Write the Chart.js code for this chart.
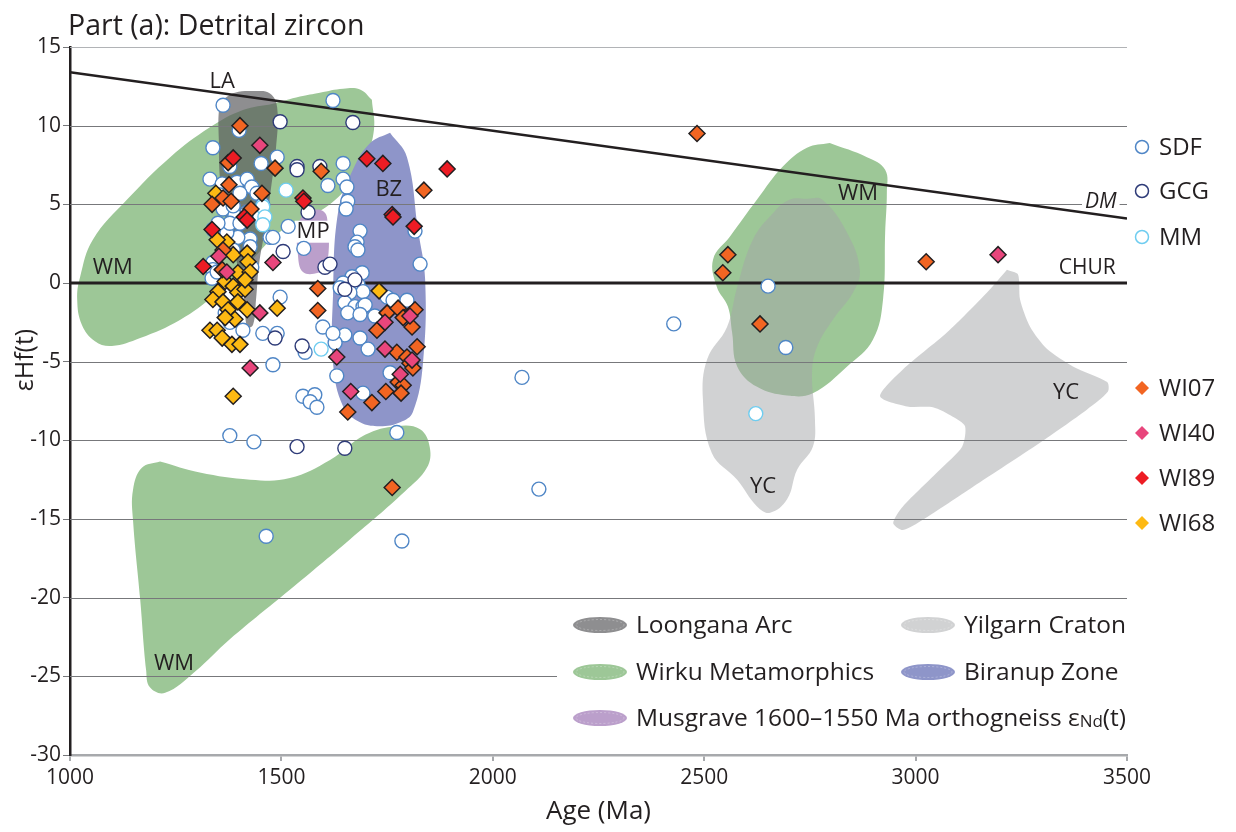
<!DOCTYPE html>
<html>
<head>
<meta charset="utf-8">
<title>Detrital zircon εHf(t)</title>
<script src="https://cdn.jsdelivr.net/npm/chart.js@4.4.0/dist/chart.umd.min.js"></script>
<style>
  html, body { margin: 0; padding: 0; background: #fff; }
  canvas { display: block; }
</style>
</head>
<body>
<canvas id="chartHf" width="1236" height="832"></canvas>
<script>
const FONT = '"Open Sans", "Noto Sans", sans-serif';
const INK = '#231f20';

// axis ticks
const ageTicks = [1000, 1500, 2000, 2500, 3000, 3500];
const hfTicks = [15, 10, 5, 0, -5, -10, -15, -20, -25, -30];

// evolution lines, [age Ma, eHf]
const dmLine = [[1000, 13.4], [3500, 4.1]];
const churLine = [[1000, 0], [3500, 0]];

// detrital zircon analyses, [age Ma, eHf(t)]
const sdf = [
  [1362, 11.3], [1622, 11.6], [1400, 9.7], [1338, 8.6], [1490, 8.0], [1452, 7.6], [1378, 7.4], [1646, 7.6],
  [1610, 6.2], [1646, 6.6], [1655, 6.1], [1657, 5.2], [1653, 4.7], [1516, 3.6], [1553, 2.2], [1686, 3.3],
  [1679, 2.6], [1674, 2.3], [1828, 1.2], [1816, 3.3],
  [1331, 6.6], [1360, 6.3], [1395, 6.4], [1419, 6.6], [1430, 6.1], [1402, 5.7], [1442, 5.7], [1456, 5.0],
  [1362, 4.7], [1390, 4.3], [1419, 4.5], [1449, 4.2], [1473, 2.9], [1480, 2.9], [1426, 2.8], [1397, 2.9],
  [1371, 3.2], [1338, 3.4], [1378, 3.8], [1350, 3.8], [1402, 3.8], [1386, 4.9], [1355, 5.6], [1338, 1.3],
  [1338, 0.85], [1430, 1.0], [1336, 0.3], [1348, 0.7], [1426, 2.3], [1386, 2.1],
  [1497, -0.9], [1378, -2.5], [1367, -1.9], [1409, -3.0], [1456, -3.2], [1490, -3.2], [1480, -5.2],
  [1378, -9.7], [1435, -10.1], [1464, -16.1],
  [1691, 0.65], [1667, 0.4], [1646, 0.0], [1639, -0.3], [1681, -0.1], [1693, -0.55], [1662, -0.6],
  [1650, -1.25], [1674, -1.5], [1693, -1.5], [1657, -1.9], [1698, -1.4], [1686, -2.0], [1750, -0.9],
  [1764, -1.1], [1797, -1.1], [1721, -2.1], [1650, -3.3], [1627, -3.8], [1686, -3.5], [1705, -4.2],
  [1598, -2.8], [1622, -3.2], [1631, -5.9], [1757, -5.7], [1693, -7.0], [1551, -7.2], [1579, -7.1],
  [1568, -7.55], [1584, -7.9], [1773, -9.5], [1785, -16.4], [1681, 2.1], [1556, -4.4],
  [2069, -6.0], [2109, -13.1], [2428, -2.6], [2651, -0.2], [2693, -4.1]
];
const gcg = [
  [1497, 10.25], [1669, 10.2], [1537, 7.4], [1537, 7.2], [1591, 7.4], [1563, 4.5], [1504, 2.0], [1603, 1.0],
  [1615, 1.2], [1549, -4.0], [1485, -3.5], [1537, -10.4], [1650, -10.5], [1674, 0.2], [1650, -0.4]
];
const mm = [[1511, 5.9], [1456, 4.85], [1461, 4.2], [1456, 3.7], [1594, -4.2], [2622, -8.3]];
const wi07 = [
  [1402, 10.0], [1374, 7.65], [1485, 7.3], [1594, 7.1], [1376, 6.25], [1336, 5.0], [1362, 5.4], [1381, 5.2],
  [1454, 5.7], [1428, 4.7], [1837, 5.9], [1586, -0.35], [2483, 9.5], [2556, 1.8], [2544, 0.65], [2632, -2.6],
  [3025, 1.35], [1586, -1.75], [1726, -3.0], [1750, -1.9], [1776, -1.6], [1804, -2.0], [1816, -1.7],
  [1788, -2.2], [1809, -2.8], [1773, -4.4], [1797, -4.7], [1821, -4.05], [1804, -5.1], [1811, -5.4],
  [1776, -6.3], [1788, -6.5], [1747, -6.9], [1783, -7.0], [1714, -7.6], [1657, -8.2], [1762, -13.0],
  [1362, 2.1], [1360, 0.85]
];
const wi40 = [
  [1449, 8.75], [1480, 1.3], [1352, 1.7], [1371, 0.7], [1449, -1.9], [1426, -5.4], [1631, -4.7],
  [1745, -2.5], [1804, -2.1], [1745, -4.2], [1809, -4.9], [1781, -5.8], [1664, -6.9], [3195, 1.8]
];
const wi89 = [
  [1386, 7.95], [1702, 7.9], [1740, 7.6], [1892, 7.25], [1551, 5.4], [1553, 5.2], [1412, 4.2], [1419, 4.0],
  [1762, 4.35], [1764, 4.2], [1814, 3.6], [1336, 3.4], [1315, 1.05]
];
const wi68 = [
  [1345, 5.7], [1371, 2.6], [1348, 2.75], [1386, 1.8], [1419, 1.9], [1421, 1.35], [1397, 0.65], [1367, 0.1],
  [1386, -0.2], [1350, -0.55], [1397, -0.6], [1414, -0.4], [1338, -1.05], [1362, -1.2], [1397, -1.2],
  [1374, -1.7], [1419, -1.7], [1390, -2.3], [1367, -2.2], [1331, -3.0], [1348, -3.0], [1360, -3.5],
  [1383, -3.9], [1402, -3.9], [1386, -7.2], [1490, -1.6], [1731, -0.5], [1426, 0.7], [1414, 0.2]
];

// comparison fields (outlines), [age Ma, eHf]
const wmUpper = [
  [1714, 11.65], [1686, 12.3], [1646, 12.35], [1591, 12.1], [1544, 11.85], [1480, 11.4], [1409, 11.0],
  [1331, 9.9], [1237, 8.0], [1135, 5.3], [1054, 2.75], [1024, 0.4], [1017, -1.05], [1028, -2.65],
  [1059, -3.7], [1099, -4.0], [1166, -3.5], [1260, -2.35], [1343, -0.75], [1426, 1.35], [1497, 3.25],
  [1596, 4.65], [1655, 6.05], [1698, 7.85], [1719, 9.75]
];
const wmLower = [
  [1213, -11.35], [1307, -12.05], [1426, -12.5], [1520, -12.4], [1615, -11.25], [1698, -9.65],
  [1773, -9.1], [1828, -9.3], [1851, -10.45], [1844, -11.75], [1792, -13.25], [1662, -16.3],
  [1520, -19.5], [1378, -22.65], [1296, -24.7], [1225, -26.05], [1189, -25.7], [1180, -24.6],
  [1166, -20.1], [1149, -15.05], [1149, -13.15], [1170, -11.75]
];
const wmRight = [
  [2797, 8.9], [2885, 8.0], [2928, 7.2], [2932, 5.75], [2928, 3.2], [2923, -1.05], [2899, -3.6],
  [2838, -5.3], [2757, -7.0], [2696, -7.15], [2625, -6.6], [2578, -5.3], [2566, -3.15], [2556, -1.5],
  [2530, -0.25], [2521, 1.5], [2561, 2.95], [2625, 5.3], [2686, 7.4], [2743, 8.6]
];
const laField = [
  [1360, 11.65], [1390, 12.1], [1437, 12.2], [1473, 12.05], [1490, 11.15], [1487, 8.5], [1475, 5.95],
  [1461, 3.4], [1447, 1.15], [1440, -1.05], [1433, -2.65], [1419, -2.8], [1412, -1.05], [1393, 1.5],
  [1369, 4.0], [1355, 6.55], [1352, 9.1], [1352, 10.9]
];
const bzField = [
  [1757, 9.55], [1797, 8.0], [1823, 3.4], [1840, 0.2], [1835, -5.05], [1811, -8.2], [1781, -8.85],
  [1733, -9.1], [1686, -8.85], [1646, -7.85], [1622, -5.05], [1622, -0.85], [1634, 4.5], [1669, 7.2],
  [1710, 8.9]
];
const mpField = [
  [1556, 4.5], [1591, 4.65], [1608, 4.15], [1608, 1.15], [1587, 0.65], [1551, 0.7], [1539, 1.8], [1539, 3.7]
];
const ycMid = [
  [2743, 5.35], [2779, 5.3], [2838, 3.2], [2868, 0.85], [2852, -0.6], [2805, -2.3], [2767, -4.05],
  [2755, -5.7], [2762, -8.7], [2757, -10.4], [2720, -11.85], [2696, -13.75], [2656, -14.6], [2625, -14.2],
  [2578, -12.5], [2518, -10.8], [2497, -7.4], [2507, -4.85], [2554, -2.8], [2578, -0.25], [2615, 2.75],
  [2663, 4.45], [2703, 5.3]
];
const ycRight = [
  [3216, 0.85], [3242, 0.55], [3247, -1.05], [3271, -2.8], [3311, -4.2], [3372, -5.3], [3453, -6.3],
  [3455, -6.9], [3405, -8.05], [3294, -10.15], [3136, -12.95], [3017, -15.05], [2970, -15.7],
  [2947, -15.25], [2970, -14.2], [3058, -11.85], [3110, -10.4], [3117, -9.1], [3088, -8.5], [3041, -7.9],
  [2980, -7.85], [2916, -7.2], [2970, -5.5], [3074, -3.15], [3169, -0.6]
];

// field labels, [text, age, eHf]
const zoneLabels = [
  ['LA', 1360, 12.8], ['WM', 1101, 0.97], ['BZ', 1754, 5.9], ['MP', 1575, 3.26],
  ['WM', 2864, 5.67], ['YC', 2639, -12.95], ['YC', 3356, -6.97], ['WM', 1246, -24.2]
];

const WM_FILL = '#9dc797';
const LA_FILL = 'rgba(88, 89, 91, 0.68)';
const YC_FILL = 'rgba(163, 165, 168, 0.5)';
const BZ_FILL = '#8e95c9';
const MP_FILL = '#bb9fcb';

const toXY = arr => arr.map(([x, y]) => ({ x, y }));
const closed = arr => toXY(arr.concat([arr[0]]));

function zone(label, pts, color, order, tension) {
  return {
    type: 'line', label, data: closed(pts), order,
    backgroundColor: color, borderColor: 'rgba(0,0,0,0)', borderWidth: 0,
    pointRadius: 0, fill: 'shape', tension: tension === undefined ? 0.4 : tension
  };
}
function refLine(label, pts, width) {
  return {
    type: 'line', label, data: toXY(pts), order: 20,
    borderColor: INK, borderWidth: width, pointRadius: 0, fill: false, tension: 0
  };
}
function circles(label, pts, edge, order) {
  return {
    type: 'scatter', label, data: toXY(pts), order, key: 'circle',
    pointStyle: 'circle', pointRadius: 7, pointBackgroundColor: '#fff',
    pointBorderColor: edge, pointBorderWidth: 1.4
  };
}
function diamonds(label, pts, color, order) {
  return {
    type: 'scatter', label, data: toXY(pts), order, key: 'diamond',
    pointStyle: 'rectRot', pointRadius: 8, pointBackgroundColor: color,
    pointBorderColor: INK, pointBorderWidth: 1.5
  };
}

const sampleSets = [
  circles('SDF', sdf, '#4f86c6', 10),
  circles('GCG', gcg, '#2e3b78', 9),
  circles('MM', mm, '#6fcdf0', 8),
  diamonds('WI07', wi07, '#f26522', 6),
  diamonds('WI40', wi40, '#e8467c', 5),
  diamonds('WI89', wi89, '#ed1c24', 4),
  diamonds('WI68', wi68, '#fdb913', 7)
];

const fieldSets = [
  zone('Musgrave', mpField, MP_FILL, 30),
  zone('Biranup', bzField, BZ_FILL, 31),
  zone('Loongana', laField, LA_FILL, 32),
  zone('Yilgarn mid', ycMid, YC_FILL, 33),
  zone('Yilgarn right', ycRight, YC_FILL, 34, 0.25),
  zone('Wirku upper', wmUpper, WM_FILL, 35),
  zone('Wirku lower', wmLower, WM_FILL, 36),
  zone('Wirku right', wmRight, WM_FILL, 37)
];

// grid, key panel and field labels go on top of the fills but under lines and points
function drawUnderlay(chart) {
  const { ctx, chartArea: a, scales: { x, y } } = chart;
  ctx.save();
  hfTicks.forEach(v => {
    if (v === -30 || v === 0) return;
    const py = Math.round(y.getPixelForValue(v)) + 0.5;
    ctx.strokeStyle = v === 15 ? '#b1b3b6' : '#77787b';
    ctx.lineWidth = 1.1;
    ctx.beginPath();
    ctx.moveTo(a.left, py);
    ctx.lineTo(a.right, py);
    ctx.stroke();
  });

  ctx.fillStyle = '#fff';
  ctx.fillRect(557, 606, a.right - 557 + 2, a.bottom - 608);

  ctx.textAlign = 'center';
  ctx.textBaseline = 'middle';
  ctx.font = `22px ${FONT}`;
  zoneLabels.forEach(([t, ax, ay]) => {
    const px = x.getPixelForValue(ax), py = y.getPixelForValue(ay);
    if (t === 'MP') {
      const w = ctx.measureText(t).width;
      ctx.fillStyle = '#fff';
      ctx.fillRect(px - w / 2 - 2, py - 11, w + 4, 22);
    }
    ctx.fillStyle = INK;
    ctx.fillText(t, px, py);
  });

  // DM / CHUR tags at the right end of the lines
  const dmX = x.getPixelForValue(3438), dmY = y.getPixelForValue(5.17);
  ctx.font = `italic 21px ${FONT}`;
  const dmW = ctx.measureText('DM').width;
  ctx.fillStyle = '#fff';
  ctx.fillRect(dmX - dmW / 2 - 3, dmY - 9, dmW + 6, 18);
  ctx.fillStyle = INK;
  ctx.fillText('DM', dmX, dmY);
  ctx.font = `21px ${FONT}`;
  ctx.fillText('CHUR', x.getPixelForValue(3406), y.getPixelForValue(0.97));
  ctx.restore();
}

function drawKeys(chart) {
  const { ctx } = chart;
  ctx.save();
  ctx.fillStyle = INK;
  ctx.textBaseline = 'alphabetic';
  ctx.textAlign = 'left';
  ctx.font = `28.5px ${FONT}`;
  ctx.fillText('Part (a): Detrital zircon', 68, 35);

  ctx.save();
  ctx.translate(26, 360);
  ctx.rotate(-Math.PI / 2);
  ctx.textAlign = 'center';
  ctx.textBaseline = 'middle';
  ctx.font = `25px ${FONT}`;
  ctx.fillText('εHf(t)', 0, 0);
  ctx.restore();

  // sample key, right side
  const rows = [147, 191, 237, 388, 433, 478, 523];
  ctx.textBaseline = 'middle';
  ctx.font = `24px ${FONT}`;
  sampleSets.forEach((ds, i) => {
    const cy = rows[i], cx = 1142;
    ctx.beginPath();
    if (ds.key === 'circle') {
      ctx.arc(cx, cy, 6.5, 0, Math.PI * 2);
      ctx.fillStyle = '#fff';
      ctx.fill();
      ctx.lineWidth = 1.5;
      ctx.strokeStyle = ds.pointBorderColor;
      ctx.stroke();
    } else {
      ctx.moveTo(cx - 7, cy);
      ctx.lineTo(cx, cy - 7);
      ctx.lineTo(cx + 7, cy);
      ctx.lineTo(cx, cy + 7);
      ctx.closePath();
      ctx.fillStyle = ds.pointBackgroundColor;
      ctx.fill();
    }
    ctx.fillStyle = INK;
    ctx.fillText(ds.label, 1159, cy + 1);
  });

  // field key, lower right
  const fieldKey = [
    ['Loongana Arc', LA_FILL, 600, 625], ['Yilgarn Craton', YC_FILL, 928, 625],
    ['Wirku Metamorphics', WM_FILL, 600, 672], ['Biranup Zone', BZ_FILL, 928, 672],
    ['Musgrave 1600–1550 Ma orthogneiss ε', MP_FILL, 600, 718]
  ];
  fieldKey.forEach(([t, c, cx, cy]) => {
    ctx.beginPath();
    ctx.ellipse(cx, cy, 27, 8, 0, 0, Math.PI * 2);
    ctx.fillStyle = c;
    ctx.fill();
    ctx.beginPath();
    ctx.ellipse(cx, cy, 24, 5.5, 0, 0, Math.PI * 2);
    ctx.setLineDash([2, 2]);
    ctx.lineWidth = 0.6;
    ctx.strokeStyle = 'rgba(255,255,255,0.45)';
    ctx.stroke();
    ctx.setLineDash([]);
    ctx.fillStyle = INK;
    ctx.font = `24.5px ${FONT}`;
    ctx.fillText(t, cx + 36, cy + 1);
    if (t.endsWith('ε')) {
      let px = cx + 36 + ctx.measureText(t).width;
      ctx.font = `17px ${FONT}`;
      ctx.fillText('Nd', px, cy + 4);
      px += ctx.measureText('Nd').width;
      ctx.font = `24.5px ${FONT}`;
      ctx.fillText('(t)', px, cy + 1);
    }
  });
  ctx.restore();
}

const overlay = {
  id: 'overlay',
  afterDatasetDraw(chart, args) {
    if (chart.data.datasets[args.index].label === 'Musgrave') drawUnderlay(chart);
  },
  afterDraw(chart) {
    drawKeys(chart);
  }
};

Chart.defaults.font.family = FONT;
Chart.defaults.color = INK;

const canvas = document.getElementById('chartHf');
const chart = new Chart(canvas, {
  type: 'scatter',
  data: {
    datasets: [
      ...sampleSets,
      refLine('DM', dmLine, 2.5),
      refLine('CHUR', churLine, 3),
      ...fieldSets
    ]
  },
  options: {
    responsive: false,
    devicePixelRatio: 1,
    animation: false,
    events: [],
    layout: { padding: { top: 47, right: 109, left: 0, bottom: 0 } },
    plugins: { legend: { display: false }, tooltip: { enabled: false } },
    scales: {
      x: {
        type: 'linear', min: 1000, max: 3500,
        afterBuildTicks: s => { s.ticks = ageTicks.map(v => ({ value: v })); },
        afterFit: s => { s.height = 77; },
        ticks: { font: { size: 21 }, color: INK, padding: 4, maxRotation: 0, autoSkip: false, callback: v => String(v) },
        grid: { drawOnChartArea: false, drawTicks: true, tickLength: 6, color: '#a7a9ac', lineWidth: 2 },
        border: { display: true, color: '#a7a9ac', width: 2.5 },
        title: { display: true, text: 'Age (Ma)', font: { size: 26 }, color: INK, padding: { top: 0, bottom: 5 } }
      },
      y: {
        type: 'linear', min: -30, max: 15,
        afterBuildTicks: s => { s.ticks = hfTicks.map(v => ({ value: v })); },
        afterFit: s => { s.width = 70; },
        ticks: { font: { size: 21 }, color: INK, padding: 2, autoSkip: false, callback: v => String(v) },
        grid: { drawOnChartArea: false, drawTicks: true, tickLength: 7, color: '#77787b', lineWidth: 1 },
        border: { display: true, color: INK, width: 2.5 }
      }
    }
  },
  plugins: [overlay]
});
</script>
</body>
</html>
